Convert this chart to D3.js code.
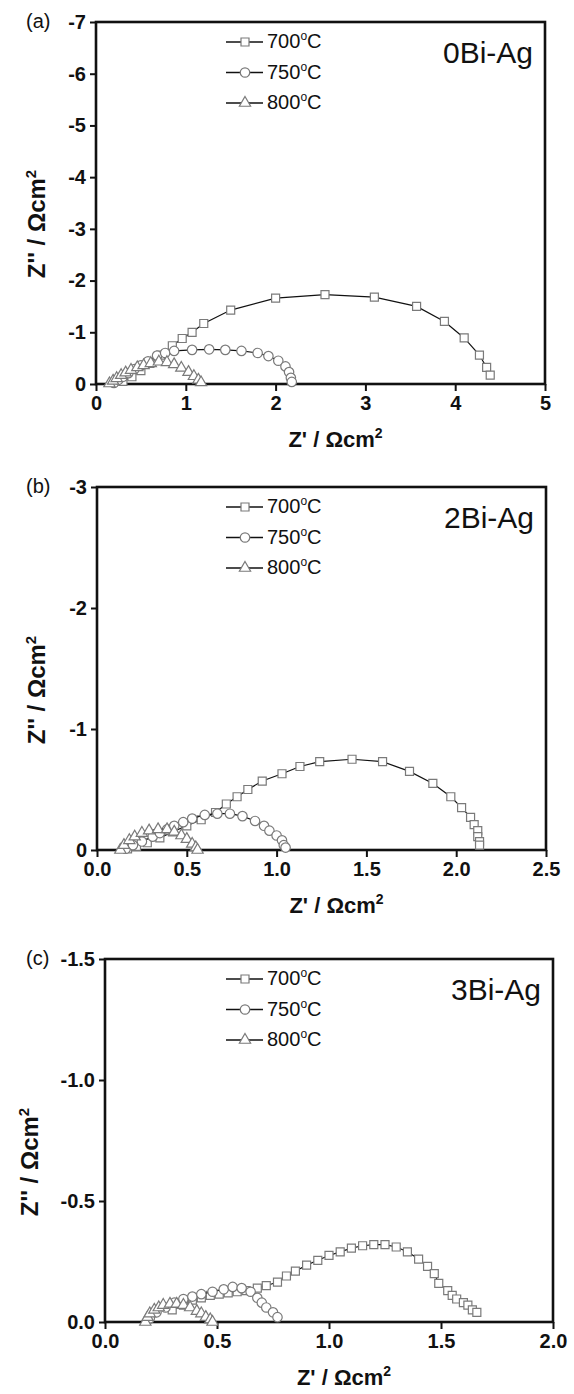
<!DOCTYPE html>
<html>
<head>
<meta charset="utf-8">
<script src="https://cdn.jsdelivr.net/npm/d3@7"></script>
<style>
  body { margin: 0; background: #fff; }
  svg text { font-family: "Liberation Sans", Arial, sans-serif; }
</style>
</head>
<body>
<svg id="chart" width="574" height="1394"></svg>
<script>
// series: [Z', Z''] in ohm cm2
const temps = ['700', '750', '800'];
const panelNames = ['0Bi-Ag', '2Bi-Ag', '3Bi-Ag'];
const panelLetters = ['(a)', '(b)', '(c)'];

const a700 = [[0.30,-0.05],[0.40,-0.14],[0.50,-0.26],[0.60,-0.40],[0.72,-0.56],[0.85,-0.74],[0.96,-0.88],[1.07,-1.00],[1.20,-1.17],[1.50,-1.43],[2.00,-1.66],[2.55,-1.73],[3.10,-1.68],[3.57,-1.50],[3.88,-1.21],[4.10,-0.89],[4.27,-0.56],[4.35,-0.32],[4.39,-0.17]];
const a750 = [[0.20,-0.02],[0.25,-0.08],[0.30,-0.14],[0.36,-0.21],[0.43,-0.29],[0.50,-0.36],[0.58,-0.44],[0.68,-0.55],[0.77,-0.60],[0.87,-0.64],[1.07,-0.66],[1.26,-0.67],[1.44,-0.66],[1.62,-0.64],[1.80,-0.60],[1.92,-0.54],[2.03,-0.45],[2.11,-0.34],[2.15,-0.23],[2.17,-0.12],[2.18,-0.04]];
const a800 = [[0.15,-0.01],[0.19,-0.06],[0.23,-0.11],[0.28,-0.17],[0.33,-0.22],[0.39,-0.27],[0.46,-0.32],[0.53,-0.36],[0.61,-0.40],[0.70,-0.43],[0.79,-0.42],[0.87,-0.38],[0.95,-0.31],[1.03,-0.23],[1.09,-0.15],[1.14,-0.08],[1.17,-0.03]];

const b700 = [[0.17,-0.01],[0.22,-0.03],[0.28,-0.06],[0.35,-0.10],[0.42,-0.15],[0.50,-0.20],[0.58,-0.25],[0.66,-0.31],[0.72,-0.38],[0.78,-0.44],[0.84,-0.50],[0.92,-0.57],[1.03,-0.63],[1.13,-0.69],[1.24,-0.73],[1.42,-0.75],[1.59,-0.73],[1.74,-0.65],[1.87,-0.55],[1.97,-0.44],[2.03,-0.35],[2.08,-0.27],[2.10,-0.21],[2.12,-0.16],[2.12,-0.11],[2.13,-0.07],[2.13,-0.04]];
const b750 = [[0.16,-0.01],[0.20,-0.04],[0.25,-0.07],[0.31,-0.11],[0.35,-0.14],[0.39,-0.17],[0.43,-0.20],[0.48,-0.23],[0.53,-0.26],[0.60,-0.29],[0.67,-0.30],[0.74,-0.30],[0.81,-0.28],[0.88,-0.24],[0.93,-0.20],[0.96,-0.16],[1.00,-0.12],[1.03,-0.08],[1.04,-0.04],[1.05,-0.02]];
const b800 = [[0.13,0],[0.15,-0.04],[0.18,-0.08],[0.21,-0.11],[0.25,-0.14],[0.29,-0.16],[0.34,-0.17],[0.39,-0.17],[0.43,-0.15],[0.47,-0.12],[0.50,-0.09],[0.53,-0.05],[0.55,-0.02],[0.56,0]];

const c700 = [[0.30,-0.05],[0.35,-0.07],[0.39,-0.09],[0.43,-0.10],[0.47,-0.11],[0.51,-0.115],[0.55,-0.12],[0.59,-0.125],[0.63,-0.13],[0.68,-0.14],[0.72,-0.15],[0.77,-0.165],[0.81,-0.19],[0.85,-0.21],[0.90,-0.235],[0.95,-0.255],[1.00,-0.275],[1.05,-0.29],[1.10,-0.305],[1.15,-0.315],[1.20,-0.32],[1.25,-0.32],[1.30,-0.31],[1.35,-0.29],[1.40,-0.26],[1.44,-0.23],[1.47,-0.20],[1.49,-0.16],[1.53,-0.13],[1.55,-0.11],[1.57,-0.095],[1.60,-0.08],[1.62,-0.07],[1.64,-0.05],[1.66,-0.04]];
const c750 = [[0.20,-0.015],[0.23,-0.04],[0.27,-0.06],[0.31,-0.08],[0.35,-0.095],[0.39,-0.105],[0.43,-0.115],[0.48,-0.125],[0.53,-0.135],[0.57,-0.145],[0.61,-0.14],[0.65,-0.125],[0.68,-0.10],[0.70,-0.08],[0.72,-0.06],[0.75,-0.04],[0.77,-0.02]];
const c800 = [[0.18,0],[0.19,-0.02],[0.20,-0.035],[0.22,-0.05],[0.24,-0.06],[0.26,-0.07],[0.29,-0.075],[0.32,-0.075],[0.35,-0.07],[0.38,-0.06],[0.41,-0.045],[0.43,-0.035],[0.45,-0.02],[0.47,-0.01],[0.48,0]];

const xTicksA = [0, 1, 2, 3, 4, 5];
const xLabelsA = ['0', '1', '2', '3', '4', '5'];
const yTicksA = [0, -1, -2, -3, -4, -5, -6, -7];
const yLabelsA = ['0', '-1', '-2', '-3', '-4', '-5', '-6', '-7'];
const xTicksB = [0, 0.5, 1, 1.5, 2, 2.5];
const xLabelsB = ['0.0', '0.5', '1.0', '1.5', '2.0', '2.5'];
const yTicksB = [0, -1, -2, -3];
const yLabelsB = ['0', '-1', '-2', '-3'];
const xTicksC = [0, 0.5, 1, 1.5, 2];
const xLabelsC = ['0.0', '0.5', '1.0', '1.5', '2.0'];
const yTicksC = [0, -0.5, -1, -1.5];
const yLabelsC = ['0.0', '-0.5', '-1.0', '-1.5'];

const panels = [
  { series: [a700, a750, a800], xMax: 5, yMin: -7, xTicks: xTicksA, xLabels: xLabelsA, yTicks: yTicksA, yLabels: yLabelsA,
    box: { left: 96, right: 545, top: 22, bottom: 384 }, yTitleX: 37 },
  { series: [b700, b750, b800], xMax: 2.5, yMin: -3, xTicks: xTicksB, xLabels: xLabelsB, yTicks: yTicksB, yLabels: yLabelsB,
    box: { left: 97, right: 546, top: 487, bottom: 850 }, yTitleX: 37 },
  { series: [c700, c750, c800], xMax: 2, yMin: -1.5, xTicks: xTicksC, xLabels: xLabelsC, yTicks: yTicksC, yLabels: yLabelsC,
    box: { left: 105, right: 553, top: 959, bottom: 1322 }, yTitleX: 30 },
];

const symbols = [d3.symbolSquare, d3.symbolCircle, d3.symbolTriangle];
const symbolSizes = [64, 70, 55];
const markerStroke = '#7a7a7a';

const svg = d3.select('#chart');

panels.forEach((p, pi) => {
  const b = p.box;
  const x = d3.scaleLinear().domain([0, p.xMax]).range([b.left, b.right]);
  const y = d3.scaleLinear().domain([0, p.yMin]).range([b.bottom, b.top]);
  const g = svg.append('g');

  // axes
  const xAxis = g.append('g')
    .attr('transform', `translate(0,${b.bottom})`)
    .call(d3.axisBottom(x).tickValues(p.xTicks).tickSize(7).tickPadding(5)
      .tickFormat((d, i) => p.xLabels[i]));
  const yAxis = g.append('g')
    .attr('transform', `translate(${b.left},0)`)
    .call(d3.axisLeft(y).tickValues(p.yTicks).tickSize(6).tickPadding(4)
      .tickFormat((d, i) => p.yLabels[i]));
  [xAxis, yAxis].forEach(ax => {
    ax.select('.domain').remove();
    ax.selectAll('line').attr('stroke', '#111').attr('stroke-width', 2);
    ax.selectAll('text')
      .attr('fill', '#111')
      .style('font-size', '20px')
      .style('font-weight', 'bold')
      .style('font-family', '"Liberation Sans", Arial, sans-serif');
  });

  g.append('rect')
    .attr('x', b.left).attr('y', b.top)
    .attr('width', b.right - b.left).attr('height', b.bottom - b.top)
    .attr('fill', 'none').attr('stroke', '#111').attr('stroke-width', 2.6);

  // series
  const line = d3.line().x(d => x(d[0])).y(d => y(d[1]));
  p.series.forEach((s, si) => {
    g.append('path')
      .datum(s)
      .attr('d', line)
      .attr('fill', 'none')
      .attr('stroke', '#111')
      .attr('stroke-width', 1.2);
    g.selectAll(null)
      .data(s)
      .enter()
      .append('path')
      .attr('d', d3.symbol().type(symbols[si]).size(symbolSizes[si]))
      .attr('transform', d => `translate(${x(d[0])},${y(d[1])})`)
      .attr('fill', '#fff')
      .attr('stroke', markerStroke)
      .attr('stroke-width', 1.2);
  });

  // legend
  temps.forEach((t, ti) => {
    const ly = b.top + 20 + ti * 30.5;
    g.append('line')
      .attr('x1', 226).attr('x2', 263).attr('y1', ly).attr('y2', ly)
      .attr('stroke', '#111').attr('stroke-width', 1.3);
    g.append('path')
      .attr('d', d3.symbol().type(symbols[ti]).size(symbolSizes[ti])())
      .attr('transform', `translate(245,${ly})`)
      .attr('fill', '#fff').attr('stroke', markerStroke).attr('stroke-width', 1.2);
    const txt = g.append('text')
      .attr('x', 267).attr('y', ly + 6)
      .attr('fill', '#111')
      .style('font-size', '20px');
    txt.append('tspan').text(t);
    txt.append('tspan').attr('dy', -8).style('font-size', '12px').text('o');
    txt.append('tspan').attr('dy', 8).text('C');
  });

  // panel name
  g.append('text')
    .attr('x', b.right - 12).attr('y', b.top + 41)
    .attr('text-anchor', 'end')
    .attr('fill', '#111')
    .style('font-size', '30px')
    .text(panelNames[pi]);

  // panel letter
  g.append('text')
    .attr('x', 26).attr('y', b.top + 6)
    .attr('fill', '#111')
    .style('font-size', '20px')
    .text(panelLetters[pi]);

  // x title
  const xt = g.append('text')
    .attr('x', (b.left + b.right) / 2 + 15).attr('y', b.bottom + 63)
    .attr('text-anchor', 'middle')
    .attr('fill', '#111')
    .style('font-size', '22px')
    .style('font-weight', 'bold');
  xt.append('tspan').text("Z' / \u03A9cm");
  xt.append('tspan').attr('dy', -9).style('font-size', '14px').text('2');

  // y title
  const yt = g.append('text')
    .attr('transform', `translate(${p.yTitleX},${b.bottom - 160}) rotate(-90)`)
    .attr('text-anchor', 'middle')
    .attr('dy', '0.35em')
    .attr('fill', '#111')
    .style('font-size', '24px')
    .style('font-weight', 'bold');
  yt.append('tspan').text("Z'' / \u03A9cm");
  yt.append('tspan').attr('dy', -9).style('font-size', '15px').text('2');
});
</script>
</body>
</html>
